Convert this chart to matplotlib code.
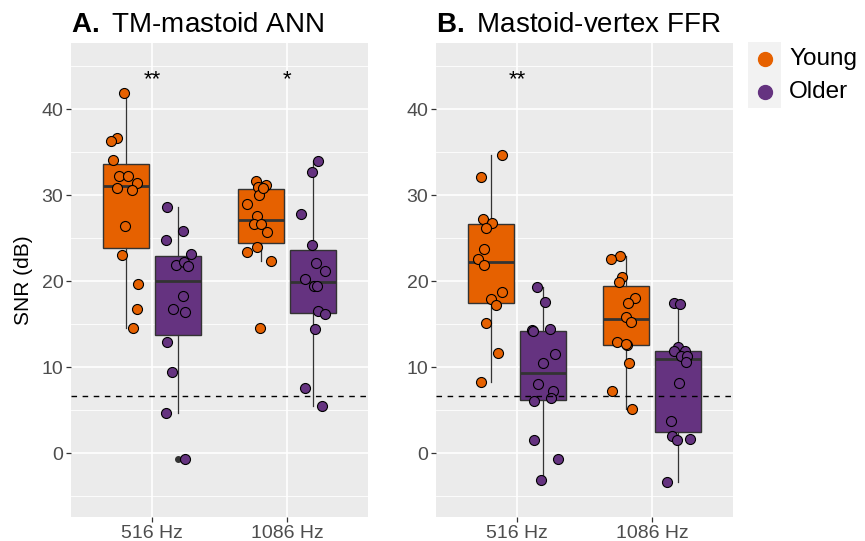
import matplotlib.pyplot as plt
from matplotlib.patches import Rectangle
from matplotlib.lines import Line2D
import numpy as np

plt.rcParams['font.family'] = ['Liberation Sans', 'DejaVu Sans']
plt.rcParams['mathtext.fontset'] = 'custom'
plt.rcParams['mathtext.rm'] = 'Liberation Sans'
plt.rcParams['mathtext.bf'] = 'Liberation Sans:bold'

freqs = ["516 Hz", "1086 Hz"]
groups = ["Young", "Older"]
colors = {"Young": "#E66100", "Older": "#653380"}
noise_floor = 6.7

#%% panel A: TM-mastoid ANN (SNR dB, jitter = x offset of each dot)
a_young_516 = [41.9, 36.7, 36.3, 34.1, 32.2, 32.2, 31.4, 30.8, 30.6, 26.4, 23.0, 19.7, 16.8, 14.6]
a_young_516_jit = [-0.015, -0.071, -0.111, -0.101, -0.054, 0.014, 0.077, -0.071, 0.040, -0.008, -0.030, 0.084, 0.077, 0.051]
a_older_516 = [28.6, 25.8, 24.8, 23.2, 21.9, 22.2, 21.8, 18.3, 16.8, 16.4, 12.9, 9.5, 4.7, -0.7]
a_older_516_jit = [-0.081, 0.042, -0.089, 0.099, -0.014, 0.047, 0.079, 0.042, -0.032, 0.052, -0.077, -0.040, -0.089, 0.052]
a_young_1086 = [31.7, 31.2, 31.0, 30.0, 29.0, 27.6, 26.7, 26.7, 25.7, 24.0, 23.4, 22.4, 14.6, 30.9]
a_young_1086_jit = [-0.042, 0.034, -0.023, -0.017, -0.104, -0.034, -0.057, -0.003, 0.044, -0.030, -0.104, 0.069, -0.012, 0.012]
a_older_1086 = [34.0, 32.7, 27.8, 24.2, 22.1, 21.2, 20.3, 19.5, 19.4, 16.6, 16.2, 14.4, 7.6, 5.5]
a_older_1086_jit = [0.040, -0.005, -0.089, -0.007, 0.025, 0.091, -0.057, 0.010, 0.030, 0.042, 0.091, 0.017, -0.054, 0.071]
a_stars = ["**", "*"]

#%% panel B: Mastoid-vertex FFR
b_young_516 = [34.7, 32.1, 27.2, 26.8, 26.2, 23.8, 22.6, 21.9, 18.8, 17.9, 17.3, 15.2, 11.7, 8.3]
b_young_516_jit = [0.077, -0.079, -0.064, 0.003, -0.042, -0.052, -0.097, -0.057, 0.081, -0.005, 0.032, -0.042, 0.051, -0.077]
b_older_516 = [19.3, 17.6, 14.3, 14.2, 14.4, 11.5, 10.5, 8.1, 7.3, 6.4, 6.1, 1.5, -0.7, -3.1]
b_older_516_jit = [-0.044, 0.017, -0.079, -0.074, 0.057, 0.091, 0.000, -0.032, 0.074, 0.062, -0.066, -0.066, 0.116, -0.012]
b_young_1086 = [22.9, 22.6, 20.5, 19.9, 18.1, 17.5, 15.9, 15.3, 12.9, 12.6, 12.7, 10.5, 7.2, 5.1]
b_young_1086_jit = [-0.047, -0.111, -0.034, -0.052, 0.064, 0.010, -0.005, 0.034, -0.067, 0.003, -0.005, 0.022, -0.109, 0.042]
b_older_1086 = [17.5, 17.4, 12.4, 11.9, 11.9, 11.3, 11.3, 10.6, 8.2, 3.8, 2.0, 1.5, 1.7, -3.3]
b_older_1086_jit = [-0.025, 0.017, 0.005, -0.029, 0.054, 0.025, 0.067, 0.060, 0.008, -0.051, -0.040, -0.007, 0.091, -0.077]
b_stars = ["**", ""]

panel_a = {("Young", 0): (a_young_516, a_young_516_jit), ("Older", 0): (a_older_516, a_older_516_jit),
           ("Young", 1): (a_young_1086, a_young_1086_jit), ("Older", 1): (a_older_1086, a_older_1086_jit)}
panel_b = {("Young", 0): (b_young_516, b_young_516_jit), ("Older", 0): (b_older_516, b_older_516_jit),
           ("Young", 1): (b_young_1086, b_young_1086_jit), ("Older", 1): (b_older_1086, b_older_1086_jit)}

dodge = {"Young": -0.19, "Older": 0.19}
grey20 = "#333333"


def draw_panel(ax, title, panel, stars):
    ax.set_facecolor("#EBEBEB")
    for s in ax.spines.values():
        s.set_visible(False)
    for y in np.arange(-5, 50, 10):
        ax.axhline(y, color="white", lw=0.6, zorder=0)
    ax.grid(True, color="white", lw=1.2, zorder=0)
    ax.set_axisbelow(True)
    for (g, i), (vals, jit) in panel.items():
        pos = i + 1 + dodge[g]
        ax.boxplot([vals], positions=[pos], widths=0.34, patch_artist=True, showcaps=False,
                   boxprops=dict(facecolor=colors[g], edgecolor=grey20, lw=1.0),
                   whiskerprops=dict(color=grey20, lw=0.9),
                   medianprops=dict(color=grey20, lw=2.0),
                   flierprops=dict(marker="o", markersize=4, markerfacecolor=grey20,
                                   markeredgecolor=grey20), zorder=2)
        ax.scatter(pos + np.array(jit), vals, s=52, c=colors[g], edgecolors="black",
                   linewidths=0.8, zorder=3)
    ax.axhline(noise_floor, color="black", ls=(0, (4, 4)), lw=1.0, zorder=4)
    for i, st in enumerate(stars):
        if st:
            ax.text(i + 1, 44.6, st, ha="center", va="top", fontsize=16, zorder=5)
    ax.set_xlim(0.4, 2.6)
    ax.set_ylim(-7.4, 47.7)
    ax.set_xticks([1, 2])
    ax.set_xticklabels(freqs)
    ax.set_yticks([0, 10, 20, 30, 40])
    ax.tick_params(colors=grey20, labelcolor="#4D4D4D", labelsize=14, length=3.5, width=0.9, pad=2)
    ax.set_title(title, loc="left", fontsize=20, pad=8)


fig = plt.figure(figsize=(8.65, 5.41), dpi=100)
ax1 = fig.add_axes([71 / 865, 24 / 541, 297 / 865, 474 / 541])
ax2 = fig.add_axes([436 / 865, 24 / 541, 297 / 865, 474 / 541])
draw_panel(ax1, r"$\bf{A.}\;$TM-mastoid ANN", panel_a, a_stars)
draw_panel(ax2, r"$\bf{B.}\;$Mastoid-vertex FFR", panel_b, b_stars)
ax1.set_ylabel("SNR (dB)", fontsize=15)
ax1.yaxis.set_label_coords(-0.128, 0.5)

# legend drawn by hand, ggplot style
fig.add_artist(Rectangle((748 / 865, (541 - 108) / 541), 33 / 865, 66 / 541,
                         transform=fig.transFigure, facecolor="#F2F2F2", edgecolor="none"))
for k, g in enumerate(groups):
    yc = (541 - (58.5 + 33 * k)) / 541
    fig.add_artist(Line2D([764.5 / 865], [yc], marker="o", markersize=10, color=colors[g],
                          transform=fig.transFigure, lw=0))
    fig.text(789 / 865, yc, g, fontsize=17.5, va="center", ha="left")

plt.savefig("out.png", dpi=100)
